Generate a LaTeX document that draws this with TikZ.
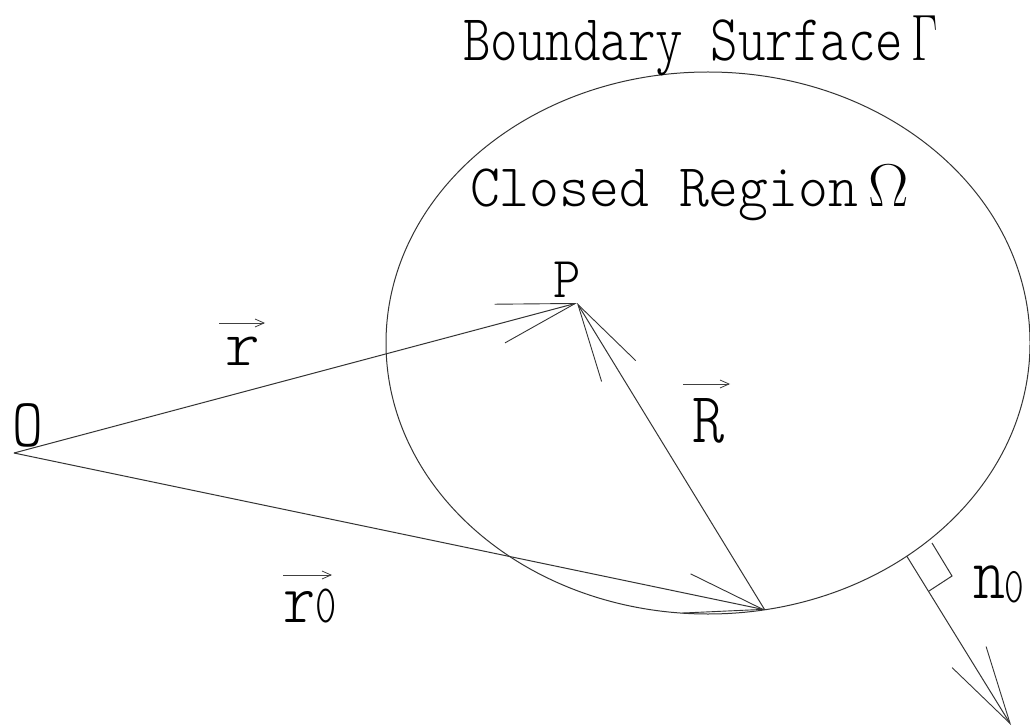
\RequirePackage{fix-cm}
\documentclass[tikz,border=0pt]{standalone}
\usetikzlibrary{arrows.meta,shapes.geometric}
\begin{document}
\begin{tikzpicture}[x=1pt,y=-1pt,
  lin/.style={line width=1pt, draw=black!80},
  vecline/.style={lin, -{Straight Barb[length=78pt,width=40pt,line width=0.9pt]}},
  smallarrow/.style={line width=0.9pt, draw=black!75, -{Straight Barb[length=9pt,width=8pt,line width=0.8pt]}},
  txt/.style={inner sep=0pt, outer sep=0pt, anchor=base west, text=black}]
\useasboundingbox (0,0) rectangle (1030,727);
\fill[white] (0,0) rectangle (1030,727);
% boundary ellipse
\node[ellipse, lin, draw, minimum width=644pt, minimum height=542pt, inner sep=0pt, outer sep=0pt] (G) at (708,343) {};
% points
\coordinate (O) at (14,453);
\coordinate (P) at (577,303);
\coordinate (Q) at (G.-78.1);
\coordinate (N) at (G.-47.8);
\coordinate (T) at (1011,725);
% vectors
\draw[vecline] (O) -- (P);
\draw[vecline] (O) -- (Q);
\draw[vecline] (Q) -- (P);
\draw[vecline] (N) -- (T);
% right angle mark
\coordinate (ra1) at (932,543);
\coordinate (ra2) at (952,576);
\coordinate (ra3) at (929,591);
\draw[lin] (ra1) -- (ra2) -- (ra3);
% titles
\node[txt, font=\ttfamily\fontseries{l}\fontsize{65.5}{66}\selectfont] (bs) at (463,61)
  {\scalebox{0.80}[1]{Boundary Surface}\hspace{8pt}\scalebox{0.7}[1]{$\Gamma$}};
\node[txt, font=\ttfamily\fontseries{l}\fontsize{60.5}{61}\selectfont] (cr) at (470,207)
  {\scalebox{0.94}[1]{Closed Region}$\,\Omega$};
% point labels
\node[txt, anchor=base, font=\ttfamily\fontseries{l}\fontsize{69}{69}\selectfont] (Olab) at (28,446) {\scalebox{0.85}[1]{O}};
\node[txt, anchor=base, font=\ttfamily\fontseries{l}\fontsize{58}{58}\selectfont] (Plab) at (567,297) {\scalebox{0.9}[1]{P}};
% vector labels
\node[txt, anchor=base, font=\ttfamily\fontseries{l}\fontsize{66}{66}\selectfont] (rlab) at (243,365) {r};
\node[txt, anchor=base, font=\ttfamily\fontseries{l}\fontsize{72}{72}\selectfont] (Rlab) at (709,442) {\scalebox{0.85}[1]{R}};
\node[txt, font=\ttfamily\fontseries{l}\selectfont] (r0lab) at (283,622)
  {{\fontsize{72}{72}\selectfont\scalebox{0.85}[1]{r}}{\fontsize{54}{54}\selectfont\scalebox{0.75}[1]{0}}};
\node[txt, font=\ttfamily\fontseries{l}\selectfont] (n0lab) at (973,598)
  {{\fontsize{76}{76}\selectfont\scalebox{0.8}[1]{n}}\raisebox{-4pt}{\fontsize{50}{50}\selectfont\scalebox{0.75}[1]{0}}};
% small arrows over vector labels
\coordinate (va1) at (219,323); \coordinate (vb1) at (265,323);
\coordinate (va2) at (283,575); \coordinate (vb2) at (332,575);
\coordinate (va3) at (683,384); \coordinate (vb3) at (730,384);
\draw[smallarrow] (va1) -- (vb1);
\draw[smallarrow] (va2) -- (vb2);
\draw[smallarrow] (va3) -- (vb3);
\end{tikzpicture}
\end{document}
